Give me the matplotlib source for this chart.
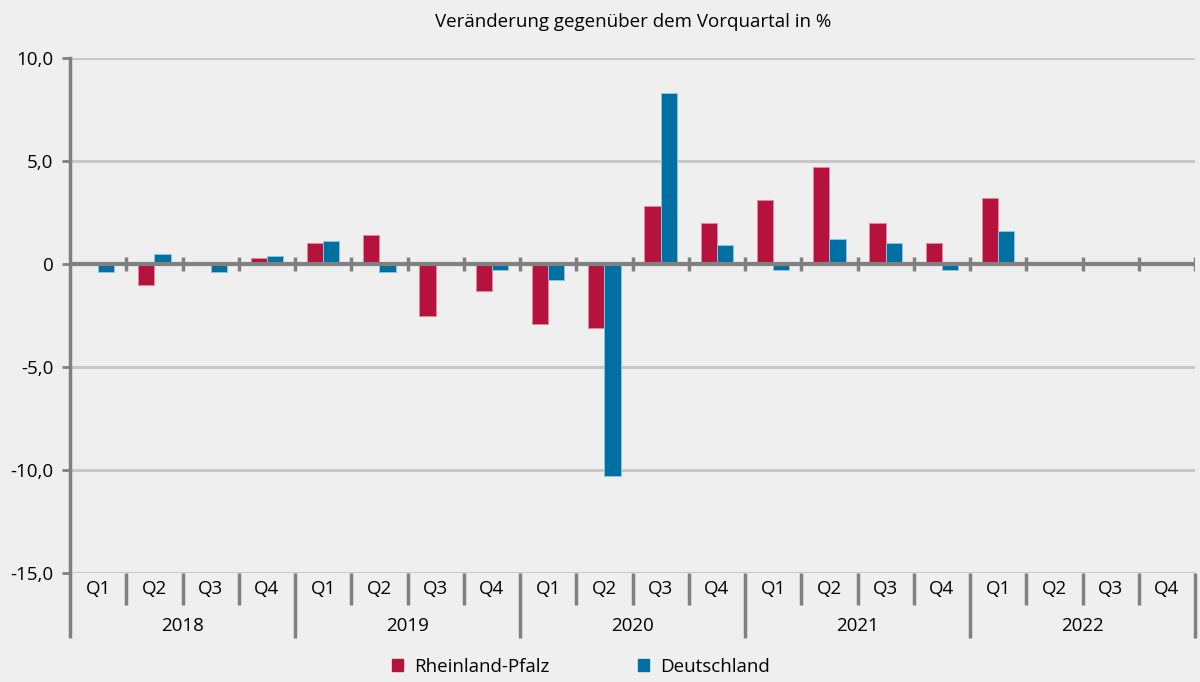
import matplotlib
matplotlib.use('Agg')
import matplotlib.pyplot as plt
from matplotlib.patches import Patch
import numpy as np

plt.rcParams['font.family'] = ['Open Sans', 'DejaVu Sans']

years = ['2018', '2019', '2020', '2021', '2022']
quarters = ['Q1', 'Q2', 'Q3', 'Q4']
# Veränderung gegenüber Vorquartal in %, None = noch kein Wert
rlp = [0.0, -1.0, 0.0, 0.3,
       1.0, 1.4, -2.5, -1.3,
       -2.9, -3.1, 2.8, 2.0,
       3.1, 4.7, 2.0, 1.0,
       3.2, None, None, None]
de = [-0.4, 0.5, -0.4, 0.4,
      1.1, -0.4, 0.1, -0.3,
      -0.8, -10.3, 8.3, 0.9,
      -0.3, 1.2, 1.0, -0.3,
      1.6, None, None, None]
yticks = [10, 5, 0, -5, -10, -15]
ytick_labels = ['10,0', '5,0', '0', '-5,0', '-10,0', '-15,0']

BG = '#eeefee'
RED = '#b5133d'
BLUE = '#0070a3'
GREY = '#808080'
GRID = '#c8c8c8'
FS = 13.5

fig = plt.figure(figsize=(12, 6.82), dpi=100, facecolor=BG)
ax = fig.add_axes([70 / 1200, 109 / 682, 1125 / 1200, 515 / 682])
ax.set_facecolor(BG)

n = len(rlp)
x = np.arange(n) + 0.5
w = 0.29
rv = [np.nan if v is None else v for v in rlp]
dv = [np.nan if v is None else v for v in de]
ax.bar(x - w / 2, rv, w, color=RED, edgecolor='#e08aa0', linewidth=0.7, zorder=3)
ax.bar(x + w / 2, dv, w, color=BLUE, edgecolor='#8cc4dc', linewidth=0.7, zorder=3)

ax.set_xlim(0, n)
ax.set_ylim(-15, 10)
for y in [10, 5, -5, -10, -15]:
    ax.axhline(y, color=GRID, lw=2.2, zorder=1)
ax.axhline(0, color=GREY, lw=3, zorder=4)
# tick marks on zero line between quarters
ax.vlines(np.arange(1, n + 1), -0.33, 0.33, color=GREY, lw=2.5, zorder=4)

for s in ['top', 'right', 'bottom']:
    ax.spines[s].set_visible(False)
ax.spines['left'].set_color(GREY)
ax.spines['left'].set_linewidth(2.5)
ax.spines['left'].set_zorder(5)

ax.set_yticks(yticks)
ax.set_yticklabels(ytick_labels, fontsize=FS)
ax.tick_params(axis='y', length=6, width=2, color=GREY, pad=6)
ax.set_xticks([])

# category axis below the plot
q_bottom = -16.55
y_bottom = -18.15
ax.vlines(0, y_bottom, -15, color=GREY, lw=2.5, clip_on=False)
for i in range(1, n + 1):
    low = y_bottom if i % 4 == 0 else q_bottom
    ax.vlines(i, low, -15, color=GREY, lw=2.5, clip_on=False)
for i in range(n):
    ax.text(i + 0.5, -15.8, quarters[i % 4], ha='center', va='center',
            fontsize=FS, clip_on=False)
for j, yr in enumerate(years):
    ax.text(j * 4 + 2, -17.55, yr, ha='center', va='center',
            fontsize=FS, clip_on=False)

fig.text(633 / 1200, 1 - 22 / 682, 'Veränderung gegenüber dem Vorquartal in %',
         ha='center', va='center', fontsize=FS)

handles = [Patch(color=RED, label='Rheinland-Pfalz'),
           Patch(color=BLUE, label='Deutschland')]
fig.legend(handles=handles, loc='center', bbox_to_anchor=(581 / 1200, 1 - 667 / 682),
           ncol=2, frameon=False, fontsize=FS, handlelength=0.6, handleheight=0.6,
           handletextpad=0.6, columnspacing=4.7)

fig.savefig('out.png', dpi=100, facecolor=BG)
